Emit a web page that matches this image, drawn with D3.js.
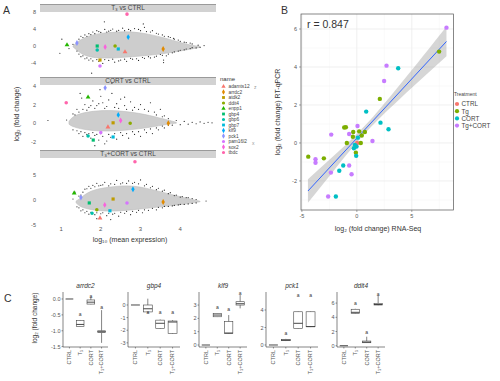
<!DOCTYPE html>
<html><head><meta charset="utf-8">
<script src="https://cdn.jsdelivr.net/npm/d3@7"></script>
<style>body{margin:0;background:#fff} svg{display:block} text{font-family:"Liberation Sans",Arial,sans-serif}</style>
</head><body><svg id="c" width="500" height="381"></svg>
<script>
// ---------------- DATA ----------------
// Panel A
const facetsA = ["T\u2083 vs CTRL", "CORT vs CTRL", "T\u2083+CORT vs CTRL"];
const xTicksA = [1, 2, 3, 4];
const yTicksA = [[-4, 0, 4, 8], [-2, 0, 2, 4], [-5, 0, 5]];
// cloud outline: [log10 mean, low, high]
const cloud1 = [[1.3,-0.2,0.0],[1.4,-1.0,0.9],[1.55,-2.1,1.8],[1.75,-2.6,2.5],[1.98,-2.9,3.0],[2.4,-2.8,3.3],[2.81,-2.5,3.4],[3.2,-2.2,2.8],[3.67,-1.7,1.8],[4.17,-0.9,0.3],[4.5,-0.3,-0.1]];
const cloud2 = [[1.2,-0.1,0.2],[1.3,-0.4,0.8],[1.65,-0.75,1.25],[2.23,-0.9,1.45],[2.99,-0.6,1.1],[3.49,-0.25,0.55],[3.75,-0.05,0.3],[3.9,0.0,0.1]];
const cloud3 = [[1.38,-0.6,-0.2],[1.48,-1.4,0.3],[1.73,-2.0,2.0],[2.23,-2.4,2.7],[2.82,-2.0,3.1],[3.49,-1.4,1.7],[4.17,-0.8,0.35],[4.5,-0.35,-0.25]];
// significant genes (black dots)
const dots1 = [[1.5,2.3],[1.6,2.6],[1.7,2.9],[1.8,3.3],[1.9,3.6],[2.0,3.2],[2.1,3.9],[2.2,3.5],[2.3,4.0],[2.45,3.7],[2.55,4.2],[2.7,3.9],[2.85,4.1],[3.0,3.6],[3.1,4.4],[3.25,3.3],[3.4,3.0],[3.55,2.6],[3.7,2.2],[3.85,1.6],[4.0,1.1],[4.15,0.8],[4.3,0.5],[4.45,0.2],[4.6,0.1],[2.09,5.7],[3.07,5.2],[3.83,1.8],
  [1.4,-1.2],[1.5,-2.5],[1.6,-3.0],[1.7,-3.3],[1.8,-3.5],[1.95,-3.6],[2.05,-4.1],[2.2,-3.4],[2.35,-3.8],[2.5,-3.3],[2.65,-3.6],[2.8,-3.1],[2.95,-3.4],[3.1,-2.9],[3.25,-2.8],[3.4,-2.4],[3.55,-2.2],[3.58,-3.3],[3.58,-3.9],[3.7,-1.9],[3.85,-1.4],[4.0,-1.0],[4.15,-0.7],[4.3,-0.4],[4.5,-0.3],[1.77,-6.4],[0.97,-1.7],[1.02,1.6],[1.2,-0.6],[1.3,0.4],
  [1.45,1.6],[1.55,2.0],[1.65,2.3],[1.75,2.7],[1.85,2.9],[1.95,3.4],[2.15,3.3],[2.25,3.7],[2.4,3.5],[2.6,3.6],[2.75,3.6],[2.95,3.9],[3.15,3.4],[3.3,3.6],[3.45,2.8],[3.6,2.3],[3.75,2.0],[3.95,1.4],[4.1,0.9],[4.25,0.7],
  [1.45,-1.9],[1.55,-2.3],[1.65,-2.8],[1.75,-3.0],[1.9,-3.2],[2.1,-3.2],[2.3,-3.1],[2.45,-3.5],[2.6,-3.1],[2.75,-2.9],[2.9,-3.0],[3.05,-2.7],[3.2,-2.5],[3.35,-2.6],[3.5,-2.0],[3.65,-2.3],[3.8,-1.6],[3.95,-1.2],[4.1,-0.9],[4.25,-0.6],[4.4,-0.45]];
const dots2 = [[0.67,0.3],[1.14,0.35],[1.3,1.0],[1.4,1.5],[1.48,3.2],[1.52,2.7],[1.6,2.0],[1.7,1.7],[1.8,2.4],[1.9,1.9],[1.98,3.6],[2.05,2.2],[2.15,1.8],[2.28,4.3],[2.28,3.2],[2.4,2.1],[2.5,2.6],[2.6,1.9],[2.75,2.3],[2.85,1.7],[3.0,2.0],[3.1,1.5],[3.25,2.2],[3.35,1.2],[3.5,1.5],[3.6,0.8],[3.9,0.3],[4.1,0.2],[4.3,0.1],[4.5,0.15],[4.7,0.1],
  [1.3,-0.7],[1.45,-1.1],[1.55,-1.4],[1.65,-1.2],[1.75,-1.6],[1.85,-1.3],[1.95,-1.8],[2.05,-1.4],[2.15,-1.9],[2.25,-1.5],[2.4,-1.7],[2.55,-1.3],[2.7,-1.6],[2.85,-1.2],[3.0,-1.4],[3.15,-1.0],[3.3,-1.1],[3.45,-0.7],[3.6,-0.5],[3.8,-0.2],[4.0,-0.15],[4.2,-0.1],[4.4,-0.05],[1.85,-2.4],[2.1,-2.2],
  [1.35,0.9],[1.45,1.2],[1.55,1.5],[1.65,1.4],[1.75,1.9],[1.85,1.6],[1.95,2.1],[2.1,1.6],[2.2,2.5],[2.35,1.7],[2.45,1.6],[2.65,1.5],[2.8,1.4],[2.95,1.5],[3.2,1.3],[3.4,0.9],[3.55,0.7],[3.7,0.5],[2.0,2.9],[2.6,2.8],
  [1.4,-0.8],[1.5,-0.9],[1.6,-1.0],[1.7,-1.1],[1.8,-1.0],[1.9,-1.2],[2.0,-1.1],[2.2,-1.2],[2.35,-1.1],[2.5,-1.0],[2.65,-1.1],[2.8,-0.9],[2.95,-0.9],[3.1,-0.7],[3.25,-0.6],[3.4,-0.5],[3.55,-0.3],[3.7,-0.2],[4.6,0.0],[4.8,0.05]];
const dots3 = [[1.5,1.0],[1.6,2.2],[1.7,2.8],[1.8,3.0],[1.9,3.4],[2.0,3.0],[2.1,3.6],[2.25,3.3],[2.4,4.0],[2.55,3.5],[2.7,3.9],[2.85,3.6],[3.0,4.1],[3.15,3.2],[3.3,2.8],[3.45,2.4],[3.6,2.0],[3.75,1.5],[3.9,1.0],[4.05,0.7],[4.2,0.5],[4.4,0.1],[4.65,-0.2],[1.35,1.6],[1.3,0.2],
  [1.4,-1.4],[1.5,-2.2],[1.6,-2.6],[1.7,-2.9],[1.85,-3.0],[2.0,-2.8],[2.15,-3.2],[2.3,-2.9],[2.45,-3.3],[2.6,-2.7],[2.75,-3.0],[2.9,-2.5],[3.05,-2.6],[3.2,-2.1],[3.4,-2.0],[3.55,-1.6],[3.7,-1.3],[3.85,-1.1],[4.0,-0.9],[4.2,-0.8],[4.4,-0.6],[2.25,-4.0],[1.9,-3.8],
  [1.45,0.8],[1.55,1.6],[1.65,2.3],[1.75,2.4],[1.85,2.7],[1.95,2.9],[2.05,3.1],[2.2,2.9],[2.35,3.2],[2.5,3.3],[2.65,3.4],[2.8,3.4],[2.95,3.3],[3.1,2.9],[3.25,2.5],[3.4,2.1],[3.55,1.8],[3.7,1.3],[3.85,0.9],[4.0,0.6],[4.15,0.5],[4.3,0.3],
  [1.45,-1.6],[1.55,-2.0],[1.65,-2.3],[1.75,-2.5],[1.9,-2.6],[2.05,-2.6],[2.2,-2.7],[2.35,-2.7],[2.5,-2.5],[2.65,-2.3],[2.8,-2.3],[2.95,-2.1],[3.1,-2.0],[3.3,-1.7],[3.45,-1.5],[3.6,-1.3],[3.8,-1.2],[3.95,-1.0],[4.1,-0.9],[4.3,-0.7]];
// highlighted genes
const geneNames = ["adamts12","arrdc2","atdk2","ddit4","enpp1","gbp4","gbp6","gbp7","klf9","pck1","pam16l2","sox2","tbdc"];
const geneColors = ["#F8766D","#E18A00","#BE9C00","#8CAB00","#24B700","#00BE70","#00C1AB","#00BBDA","#00ACFC","#8B93FF","#D575FE","#F962DD","#FF65AC"];
const geneShapes = ["triangle","diamond","square","circle","triangle","square","circle","square","diamond","diamond","circle","diamond","circle"];
const genes1 = [[2.61,-1.4],[3.57,-0.7],[1.98,-3.3],[2.36,0.0],[1.15,0.24],[1.91,0.0],[1.91,-0.94],[2.44,-0.7],[2.69,2.1],[1.40,0.7],[1.98,-4.7],[2.11,-0.24],[2.66,7.5]];
const genes2 = [[2.18,-0.4],[3.70,0.0],[2.31,0.05],[2.74,0.0],[1.68,2.8],[1.81,-1.8],[1.68,-1.36],[2.31,-1.47],[2.44,0.9],[2.11,3.8],[2.0,-1.0],[2.5,0.3],[1.13,2.2]];
const genes3 = [[1.98,-3.7],[3.57,-0.4],[2.31,0.2],[1.9,-2.0],[1.33,1.4],[1.71,-0.6],[1.78,-2.7],[2.23,-2.2],[2.81,2.2],[1.5,0.5],[2.66,-0.6],[2.1,-1.0],[2.86,7.8]];

// Panel B
const groupsB = ["CTRL","Tg","CORT","Tg+CORT"];
const groupColors = ["#F8766D","#7CAE00","#00BFC4","#C77CFF"];
const ptsCTRL = [[0.03,0.0]];
const ptsTg = [[7.48,4.81],[2.09,2.32],[-1.15,0.81],[-1.0,0.83],[-0.33,0.58],[0.21,0.61],[0.73,0.58],[-0.36,0.33],[0.45,0.39],[-0.91,0.0],[0.36,0.0],[-0.09,-0.51],[-4.42,-0.72],[-3.0,-0.81]];
const ptsCORT = [[3.76,3.93],[0.85,1.65],[2.15,1.07],[2.88,0.72],[0.09,0.28],[-0.18,-0.1],[-0.03,-0.19],[-0.27,-0.28],[-0.06,-0.68],[-1.24,-1.19],[-1.6,-1.46],[-1.91,-2.82]];
const ptsTgCORT = [[8.15,6.07],[2.7,4.07],[2.48,3.26],[0.06,0.89],[-2.33,0.44],[-0.7,0.47],[1.42,0.1],[-3.76,-0.86],[-3.76,-1.04],[-2.36,-1.56],[-0.7,-1.19],[-0.48,-1.65],[-2.61,-2.82]];
const fitSlope = 0.625, fitIntercept = 0.25, rValue = "0.847";
const bandX = [-4.45,-3,-2,-1,0,1,2,3,4,5,6,7,8.15];
const bandHalf = [0.62,0.48,0.38,0.28,0.22,0.2,0.24,0.3,0.38,0.47,0.57,0.67,0.78];
const xTicksB = [-5,0,5];
const yTicksB = [-2,0,2,4,6];

// Panel C
const cGenes = ["arrdc2","gbp4","klf9","pck1","ddit4"];
const cCats = ["CTRL","T\u2083","CORT","T\u2083+CORT"];
const cTicks = [[0,-0.5,-1,-1.5],[0,-1,-2,-3],[0,1,2,3],[0,2,4],[0,2,4,6]];
// [min, q1, median, q3, max] per category
const cBoxes = [
  [[0,0,0,0,0],[-0.88,-0.87,-0.8,-0.68,-0.66],[-0.17,-0.16,-0.1,-0.03,0.07],[-1.38,-1.06,-1.03,-1.0,-0.35]],
  [[0,0,0,0,0],[-0.65,-0.55,-0.3,0.0,0.5],[-1.9,-1.85,-1.45,-1.2,-1.15],[-2.3,-2.25,-1.35,-1.27,-1.2]],
  [[0,0,0,0,0],[2.1,2.12,2.25,2.38,2.4],[0.85,0.88,0.9,1.75,2.25],[2.75,3.0,3.1,3.25,3.75]],
  [[0,0,0,0,0],[0.45,0.49,0.55,0.65,0.7],[1.85,1.9,2.48,3.8,3.85],[2.05,2.09,2.1,3.8,3.85]],
  [[0,0,0,0,0],[4.5,4.56,4.7,5.13,5.2],[0.4,0.42,0.5,0.66,1.27],[5.7,5.73,5.8,5.97,7.1]]
];
const cLetters = [[null,-0.5,0.09,-0.28],[null,-0.63,-0.63,-0.63],[null,2.78,2.68,3.9],[null,1.34,5.7,5.7],[null,5.9,1.83,7.25]];

// ---------------- DRAW ----------------
const svg = d3.select("#c");
const gray30 = "#555";
const minus = s => String(s).replace("\u2212","-");

function sym(type, size){
  const t = {triangle:d3.symbolTriangle, diamond:d3.symbolDiamond, square:d3.symbolSquare, circle:d3.symbolCircle}[type];
  return d3.symbol().type(t).size(size)();
}

// Panel letters
[["A",3,14],["B",281,14],["C",4,302]].forEach(([t,x,y])=>svg.append("text").attr("x",x).attr("y",y).attr("font-size",10.5).attr("fill","#333").text(t));

// ---- Panel A ----
const xA = d3.scaleLinear().domain([0.47,4.9]).range([40,216]);
const panA = [
  {strip:[4,12], y:d3.scaleLinear().domain([-6.82,8.0]).range([75,12]), cloud:cloud1, dots:dots1, genes:genes1},
  {strip:[77,85], y:d3.scaleLinear().domain([-2.65,4.05]).range([148,85.5]), cloud:cloud2, dots:dots2, genes:genes2},
  {strip:[150,158], y:d3.scaleLinear().domain([-5.1,8.57]).range([225,158]), cloud:cloud3, dots:dots3, genes:genes3}
];
panA.forEach((p,i)=>{
  const g = svg.append("g");
  g.append("rect").attr("x",40).attr("y",p.strip[0]).attr("width",176).attr("height",p.strip[1]-p.strip[0]).attr("fill","#d2d2d2");
  g.append("line").attr("x1",40).attr("x2",216).attr("y1",p.strip[0]+0.5).attr("y2",p.strip[0]+0.5).attr("stroke","#9a9a9a").attr("stroke-width",1);
  g.append("text").attr("x",128).attr("y",p.strip[1]-2).attr("text-anchor","middle").attr("font-size",6.5).attr("fill","#444").text(facetsA[i]);
  const area = d3.area().x(d=>xA(d[0])).y0(d=>p.y(d[1])).y1(d=>p.y(d[2])).curve(d3.curveBasis);
  g.append("path").attr("d",area(p.cloud)).attr("fill","#cdcdcd").attr("stroke","#bdbdbd").attr("stroke-width",0.6);
  g.selectAll(".d").data(p.dots).join("circle").attr("cx",d=>xA(d[0])).attr("cy",d=>p.y(d[1])).attr("r",0.6).attr("fill","#222");
  g.selectAll(".gn").data(p.genes).join("path")
    .attr("transform",d=>`translate(${xA(d[0])},${p.y(d[1])})`)
    .attr("d",(d,j)=>sym(geneShapes[j],10)).attr("fill",(d,j)=>geneColors[j]);
  yTicksA[i].forEach(t=>{
    g.append("text").attr("x",36).attr("y",p.y(t)+2).attr("text-anchor","end").attr("font-size",5.5).attr("fill",gray30).text(t);
  });
});
xTicksA.forEach(t=>svg.append("text").attr("x",xA(t)).attr("y",231).attr("text-anchor","middle").attr("font-size",6).attr("fill",gray30).text(t));
svg.append("text").attr("x",130).attr("y",242).attr("text-anchor","middle").attr("font-size",7).attr("fill","#333").text("log\u2081\u2080 (mean expression)");
svg.append("text").attr("transform","translate(19,114) rotate(-90)").attr("text-anchor","middle").attr("font-size",7).attr("fill","#333").text("log\u2082 (fold change)");
// legend A
svg.append("text").attr("x",220).attr("y",81).attr("font-size",6).attr("fill","#333").text("name");
geneNames.forEach((n,j)=>{
  const yy = 86.5 + j*5.5;
  svg.append("path").attr("transform",`translate(223.5,${yy})`).attr("d",sym(geneShapes[j],8)).attr("fill",geneColors[j]);
  svg.append("text").attr("x",228.5).attr("y",yy+1.8).attr("font-size",4.8).attr("fill","#444").text(n);
});

// ---- Panel B ----
const xB = d3.scaleLinear().domain([-5.08,8.8]).range([301,453.6]);
const yB = d3.scaleLinear().domain([-3.53,6.79]).range([210,14]);
const gB = svg.append("g");
[-2.5,2.5,7.5].forEach(t=>gB.append("line").attr("x1",xB(t)).attr("x2",xB(t)).attr("y1",14).attr("y2",210).attr("stroke","#f4f4f4").attr("stroke-width",0.5));
[-3,-1,1,3,5].forEach(t=>gB.append("line").attr("y1",yB(t)).attr("y2",yB(t)).attr("x1",301).attr("x2",453.6).attr("stroke","#f4f4f4").attr("stroke-width",0.5));
xTicksB.forEach(t=>gB.append("line").attr("x1",xB(t)).attr("x2",xB(t)).attr("y1",14).attr("y2",210).attr("stroke","#ebebeb").attr("stroke-width",0.8));
yTicksB.forEach(t=>gB.append("line").attr("y1",yB(t)).attr("y2",yB(t)).attr("x1",301).attr("x2",453.6).attr("stroke","#ebebeb").attr("stroke-width",0.8));
const band = bandX.map((x,i)=>[x, fitIntercept+fitSlope*x-bandHalf[i], fitIntercept+fitSlope*x+bandHalf[i]]);
gB.append("path").attr("d",d3.area().x(d=>xB(d[0])).y0(d=>yB(d[1])).y1(d=>yB(d[2])).curve(d3.curveMonotoneX)(band)).attr("fill","#999").attr("fill-opacity",0.4);
const ex = d3.extent(bandX);
gB.append("line").attr("x1",xB(ex[0])).attr("y1",yB(fitIntercept+fitSlope*ex[0])).attr("x2",xB(ex[1])).attr("y2",yB(fitIntercept+fitSlope*ex[1])).attr("stroke","#3366FF").attr("stroke-width",1);
[ptsCTRL,ptsTg,ptsCORT,ptsTgCORT].forEach((arr,k)=>{
  gB.selectAll(null).data(arr).join("circle").attr("cx",d=>xB(d[0])).attr("cy",d=>yB(d[1])).attr("r",2.2).attr("fill",groupColors[k]);
});
gB.append("rect").attr("x",301).attr("y",14).attr("width",152.6).attr("height",196).attr("fill","none").attr("stroke","#555").attr("stroke-width",0.7);
xTicksB.forEach(t=>{
  gB.append("line").attr("x1",xB(t)).attr("x2",xB(t)).attr("y1",210).attr("y2",212).attr("stroke","#555").attr("stroke-width",0.5);
  gB.append("text").attr("x",xB(t)).attr("y",218).attr("text-anchor","middle").attr("font-size",5.5).attr("fill",gray30).text(t);
});
yTicksB.forEach(t=>{
  gB.append("line").attr("x1",299).attr("x2",301).attr("y1",yB(t)).attr("y2",yB(t)).attr("stroke","#555").attr("stroke-width",0.5);
  gB.append("text").attr("x",297).attr("y",yB(t)+2).attr("text-anchor","end").attr("font-size",5.5).attr("fill",gray30).text(t);
});
gB.append("text").attr("x",307).attr("y",28).attr("font-size",10.5).attr("fill","#333").text("r  =  " + rValue);
gB.append("text").attr("x",378).attr("y",231).attr("text-anchor","middle").attr("font-size",7).attr("fill","#333").text("log\u2082 (fold change) RNA-Seq");
gB.append("text").attr("transform","translate(280,112) rotate(-90)").attr("text-anchor","middle").attr("font-size",7).attr("fill","#333").text("log\u2082 (fold change) RT-qPCR");
gB.append("text").attr("x",254).attr("y",89).attr("font-size",5).attr("fill","#999").text("z");
gB.append("text").attr("x",252).attr("y",145).attr("font-size",5).attr("fill","#999").text("x");
gB.append("text").attr("x",454).attr("y",96).attr("font-size",5).attr("fill","#444").text("Treatment");
groupsB.forEach((n,k)=>{
  const yy = 104 + k*7.2;
  gB.append("circle").attr("cx",457).attr("cy",yy).attr("r",2.1).attr("fill",groupColors[k]);
  gB.append("text").attr("x",461.5).attr("y",yy+2.3).attr("font-size",6.3).attr("fill","#444").text(n);
});

// ---- Panel C ----
const cLeft = [63,128,199,266,337], cWidth = [45,52,48,52,48];
const cDom = [[-1.51,0.22],[-3.33,1.03],[-0.15,3.98],[-0.23,6.06],[-0.18,7.56]];
const cTop = 292, cBot = 347;
svg.append("text").attr("transform","translate(37,318) rotate(-90)").attr("text-anchor","middle").attr("font-size",6.5).attr("fill","#333").text("log\u2082 (fold change)");
cGenes.forEach((gname,f)=>{
  const g = svg.append("g");
  const x = d3.scalePoint().domain(cCats).range([cLeft[f], cLeft[f]+cWidth[f]]).padding(0.6);
  const y = d3.scaleLinear().domain(cDom[f]).range([cBot,cTop]);
  const bw = x.step()*0.72;
  g.append("text").attr("x",cLeft[f]+cWidth[f]/2).attr("y",288).attr("text-anchor","middle").attr("font-size",6.5).attr("font-style","italic").attr("fill","#333").text(gname);
  cBoxes[f].forEach((b,k)=>{
    const cx = x(cCats[k]);
    g.append("line").attr("x1",cx).attr("x2",cx).attr("y1",y(b[0])).attr("y2",y(b[1])).attr("stroke","#333").attr("stroke-width",0.6);
    g.append("line").attr("x1",cx).attr("x2",cx).attr("y1",y(b[3])).attr("y2",y(b[4])).attr("stroke","#333").attr("stroke-width",0.6);
    g.append("rect").attr("x",cx-bw/2).attr("y",y(b[3])).attr("width",bw).attr("height",Math.max(0,y(b[1])-y(b[3]))).attr("fill","#fff").attr("stroke","#444").attr("stroke-width",0.6);
    g.append("line").attr("x1",cx-bw/2).attr("x2",cx+bw/2).attr("y1",y(b[2])).attr("y2",y(b[2])).attr("stroke","#333").attr("stroke-width",0.9);
    if (cLetters[f][k] !== null) g.append("text").attr("x",cx).attr("y",y(cLetters[f][k])+1.5).attr("text-anchor","middle").attr("font-size",5).attr("fill","#333").text("a");
    g.append("text").attr("transform",`translate(${cx+1.8},${cBot+3}) rotate(-90)`).attr("text-anchor","end").attr("font-size",5.5).attr("fill",gray30).text(cCats[k]);
    g.append("line").attr("x1",cx).attr("x2",cx).attr("y1",cBot).attr("y2",cBot+1.5).attr("stroke","#333").attr("stroke-width",0.5);
  });
  g.append("line").attr("x1",cLeft[f]).attr("x2",cLeft[f]).attr("y1",cTop).attr("y2",cBot).attr("stroke","#333").attr("stroke-width",0.6);
  g.append("line").attr("x1",cLeft[f]).attr("x2",cLeft[f]+cWidth[f]).attr("y1",cBot).attr("y2",cBot).attr("stroke","#333").attr("stroke-width",0.6);
  const fmt = f===0 ? d3.format(".1f") : d3.format("d");
  cTicks[f].forEach(t=>{
    g.append("line").attr("x1",cLeft[f]-1.5).attr("x2",cLeft[f]).attr("y1",y(t)).attr("y2",y(t)).attr("stroke","#333").attr("stroke-width",0.5);
    g.append("text").attr("x",cLeft[f]-2.5).attr("y",y(t)+2).attr("text-anchor","end").attr("font-size",5.5).attr("fill",gray30).text(minus(fmt(t)));
  });
});
</script></body></html>
